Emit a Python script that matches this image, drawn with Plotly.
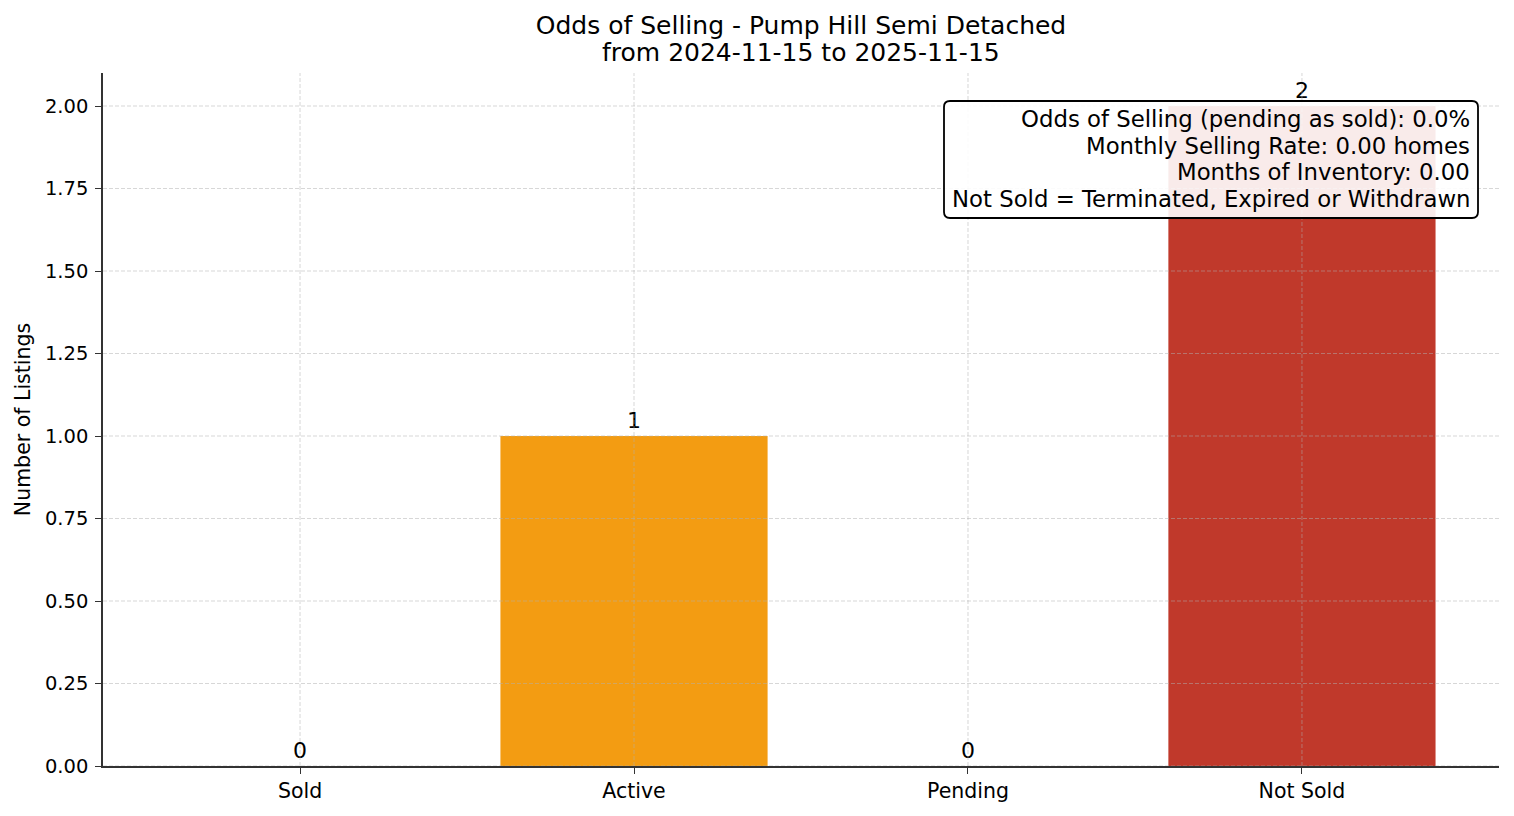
import plotly.graph_objects as go

# data
categories = ["Sold", "Active", "Pending", "Not Sold"]
counts = [0, 1, 0, 2]
bar_colors = ["#27ae60", "#f39c12", "#3498db", "#c0392b"]
y_ticks = [0, 0.25, 0.5, 0.75, 1.0, 1.25, 1.5, 1.75, 2.0]

title_line1 = "Odds of Selling - Pump Hill Semi Detached"
title_line2 = "from 2024-11-15 to 2025-11-15"
stats_lines = [
    "Odds of Selling (pending as sold): 0.0%",
    "Monthly Selling Rate: 0.00 homes",
    "Months of Inventory: 0.00",
    "Not Sold = Terminated, Expired or Withdrawn",
]

FONT = "DejaVu Sans"
W, H = 1514, 816
ML, MR, MT, MB = 103, 15, 73, 50
plot_w = W - ML - MR
plot_h = H - MT - MB


def px_x(px):
    return (px - ML) / plot_w


def px_y(py):
    return (H - MB - py) / plot_h


fig = go.Figure()
fig.add_trace(go.Bar(
    x=categories,
    y=counts,
    marker_color=bar_colors,
    marker_line_width=0,
    width=0.8,
    text=[str(c) for c in counts],
    textposition="outside",
    textfont=dict(family=FONT, size=22, color="black"),
    cliponaxis=False,
    showlegend=False,
))

grid_style = dict(color="rgba(176,176,176,0.5)", width=1, dash="4px,2px")
shapes = []
for v in y_ticks:
    shapes.append(dict(type="line", xref="paper", yref="y", x0=0, x1=1, y0=v, y1=v,
                       line=grid_style, layer="above"))
for c in categories:
    shapes.append(dict(type="line", xref="x", yref="paper", x0=c, x1=c, y0=0, y1=1,
                       line=grid_style, layer="above"))

# rounded stats box
bx0, bx1 = px_x(944), px_x(1478)
by1, by0 = px_y(101), px_y(218)
rx, ry = 6 / plot_w, 6 / plot_h
path = (f"M {bx0 + rx},{by1} L {bx1 - rx},{by1} Q {bx1},{by1} {bx1},{by1 - ry} "
        f"L {bx1},{by0 + ry} Q {bx1},{by0} {bx1 - rx},{by0} "
        f"L {bx0 + rx},{by0} Q {bx0},{by0} {bx0},{by0 + ry} "
        f"L {bx0},{by1 - ry} Q {bx0},{by1} {bx0 + rx},{by1} Z")
shapes.append(dict(type="path", xref="paper", yref="paper", path=path,
                   fillcolor="rgba(255,255,255,0.9)", line=dict(color="black", width=1.8),
                   layer="above"))

annotations = [dict(
    text=title_line2, xref="paper", yref="paper", x=0.5, y=px_y(53),
    xanchor="center", yanchor="middle", showarrow=False,
    font=dict(family=FONT, size=25, color="black"),
)]
line_y = [119, 146, 172, 199]
for t, ly in zip(stats_lines, line_y):
    annotations.append(dict(
        text=t, xref="paper", yref="paper", x=px_x(1472), y=px_y(ly),
        xanchor="right", yanchor="middle", showarrow=False,
        font=dict(family=FONT, size=22.8, color="black"),
    ))

fig.update_layout(
    width=W, height=H,
    margin=dict(l=ML, r=MR, t=MT, b=MB),
    paper_bgcolor="white", plot_bgcolor="white",
    font=dict(family=FONT, color="black"),
    title=dict(text=title_line1, x=0.5, xref="paper", y=1 - 25 / H, yref="container",
               xanchor="center", yanchor="middle",
               font=dict(family=FONT, size=25, color="black")),
    shapes=shapes,
    annotations=annotations,
    bargap=0.2,
)
fig.update_xaxes(
    range=[-0.59, 3.59], showgrid=False, zeroline=False,
    showline=True, linecolor="#333333", linewidth=1.5,
    ticks="outside", ticklen=6, tickwidth=1.3, tickcolor="#333333",
    tickfont=dict(family=FONT, size=20.5, color="black"),
    layer="above traces",
)
fig.update_yaxes(
    range=[0, 2.1], tickvals=y_ticks, tickformat=".2f", showgrid=False, zeroline=False,
    showline=True, linecolor="#333333", linewidth=1.5,
    ticks="outside", ticklen=6, tickwidth=1.3, tickcolor="#333333",
    ticklabelstandoff=3,
    tickfont=dict(family=FONT, size=19.5, color="black"),
    title=dict(text="Number of Listings", standoff=9,
               font=dict(family=FONT, size=20.5, color="black")),
    layer="above traces",
)

fig.write_html("out.html", config={"displayModeBar": False},
               post_script="document.body.style.margin='0';")
